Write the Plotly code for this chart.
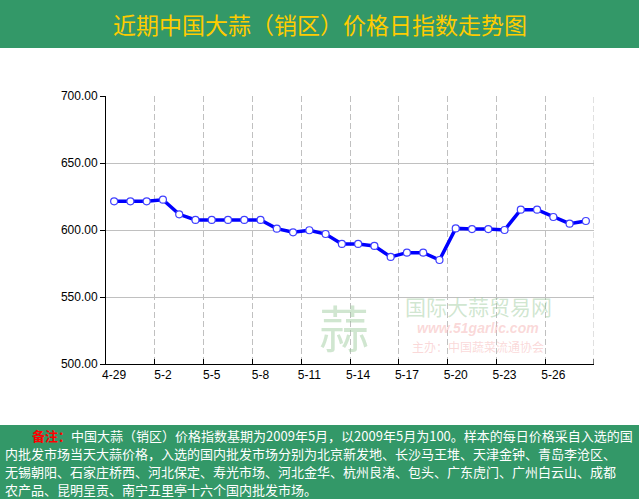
import plotly.graph_objects as go

# ---- data ----
dates = ["4-29", "4-30", "5-1", "5-2", "5-3", "5-4", "5-5", "5-6", "5-7", "5-8",
         "5-9", "5-10", "5-11", "5-12", "5-13", "5-14", "5-15", "5-16", "5-17", "5-18",
         "5-19", "5-20", "5-21", "5-22", "5-23", "5-24", "5-25", "5-26", "5-27", "5-28"]
values = [621.4, 621.4, 621.4, 622.6, 611.7, 607.5, 607.5, 607.5, 607.5, 607.5,
          601.0, 598.3, 599.8, 597.0, 589.6, 589.6, 588.1, 579.9, 583.1, 583.1,
          577.6, 601.2, 600.7, 600.7, 600.0, 615.2, 615.2, 609.7, 604.7, 606.7]
y_ticks = [500, 550, 600, 650, 700]
label_step = 3

title_text = "近期中国大蒜（销区）价格日指数走势图"
note_lines = [
    "<span style='color:#ff0000'><b>备注：</b></span>中国大蒜（销区）价格指数基期为2009年5月，以2009年5月为100。样本的每日价格采自入选的国",
    "内批发市场当天大蒜价格，入选的国内批发市场分别为北京新发地、长沙马王堆、天津金钟、青岛李沧区、",
    "无锡朝阳、石家庄桥西、河北保定、寿光市场、河北金华、杭州良渚、包头、广东虎门、广州白云山、成都",
    "农产品、昆明呈贡、南宁五里亭十六个国内批发市场。",
]

W, H = 639, 499
L, R, T, B = 106, 594, 96, 364
GREEN = "rgb(51,152,104)"
CJK = "Noto Sans CJK SC"

def px(xp):
    return (xp - L) / (R - L)

def py(yp):
    return (B - yp) / (B - T)

n = len(dates)
xs = list(range(n))
label_idx = list(range(0, n, label_step))
bounds = [i - 0.5 for i in range(0, n + 1, label_step)]

fig = go.Figure()
fig.add_trace(go.Scatter(
    x=xs, y=values, mode="lines+markers",
    line=dict(color="#0000ff", width=3.5),
    marker=dict(size=7, color="white", line=dict(color="#4040ff", width=1.2)),
    showlegend=False, hoverinfo="skip",
))
# empty helper trace to activate the boundary-grid axis
fig.add_trace(go.Scatter(x=[], y=[], xaxis="x2", yaxis="y", showlegend=False, hoverinfo="skip"))

fig.update_layout(
    width=W, height=H,
    margin=dict(l=L, r=W - R, t=T, b=H - B),
    paper_bgcolor="white", plot_bgcolor="white",
    font=dict(family="Arial, Liberation Sans", size=12, color="#000"),
    xaxis=dict(
        range=[-0.5, n - 0.5], tickmode="array", tickvals=label_idx,
        ticktext=[dates[i] for i in label_idx], ticks="", showgrid=False,
        showline=True, linecolor="#000", linewidth=1, zeroline=False,
        tickfont=dict(size=12, color="#000"),
    ),
    xaxis2=dict(
        overlaying="x", side="bottom", range=[-0.5, n - 0.5], tickmode="array",
        tickvals=bounds, showticklabels=False, ticks="inside", ticklen=5,
        tickcolor="#000", showgrid=True, gridcolor="#c0c0c0", griddash="6px,3px",
        gridwidth=1, showline=False, zeroline=False,
    ),
    yaxis=dict(
        range=[y_ticks[0], y_ticks[-1]], tickmode="array", tickvals=y_ticks,
        tickformat=".2f", ticks="outside", ticklen=5, tickcolor="#000",
        showline=True, linecolor="#000", linewidth=1, gridcolor="#c0c0c0",
        zeroline=False, tickfont=dict(size=12, color="#000"),
    ),
)

shapes = [
    dict(type="rect", xref="paper", yref="paper", x0=px(0), x1=px(W), y0=py(48), y1=py(0),
         fillcolor=GREEN, line=dict(width=0), layer="below"),
    dict(type="rect", xref="paper", yref="paper", x0=px(0), x1=px(W), y0=py(H), y1=py(425),
         fillcolor=GREEN, line=dict(width=0), layer="below"),
    # right-edge boundary grid line
    dict(type="line", xref="x", yref="paper", x0=bounds[-1], x1=bounds[-1], y0=0, y1=1,
         line=dict(color="#c0c0c0", width=1, dash="6px,3px"), layer="below"),
    dict(type="line", xref="x", yref="paper", x0=bounds[-1], x1=bounds[-1], y0=0, y1=py(B - 5),
         line=dict(color="#000", width=1), layer="above"),
]
fig.update_layout(shapes=shapes)

ann = []
ann.append(dict(text=title_text, xref="paper", yref="paper", x=px(320), y=py(24),
                xanchor="center", yanchor="middle", showarrow=False,
                font=dict(family=CJK, size=23, color="#ffcc00")))
line_x = [30, 3, 3, 3]
for i, t in enumerate(note_lines):
    ann.append(dict(text=t, xref="paper", yref="paper", x=px(line_x[i]), y=py(435 + 18 * i),
                    xanchor="left", yanchor="middle", showarrow=False,
                    font=dict(family=CJK, size=13, color="white")))
# watermark
ann.append(dict(text="蒜", xref="paper", yref="paper", x=px(344), y=py(326),
                xanchor="center", yanchor="middle", showarrow=False,
                font=dict(family=CJK, size=50, color="rgba(150,200,150,0.45)")))
ann.append(dict(text="国际大蒜贸易网", xref="paper", yref="paper", x=px(478), y=py(306),
                xanchor="center", yanchor="middle", showarrow=False, borderpad=0,
                font=dict(family=CJK, size=21, color="rgba(150,200,150,0.45)")))
ann.append(dict(text="<i><b>www.51garlic.com</b></i>", xref="paper", yref="paper", x=px(478), y=py(328),
                xanchor="center", yanchor="middle", showarrow=False, borderpad=0,
                font=dict(family="Arial", size=14, color="rgba(245,170,170,0.45)")))
ann.append(dict(text="主办：中国蔬菜流通协会", xref="paper", yref="paper", x=px(478), y=py(346),
                xanchor="center", yanchor="middle", showarrow=False, borderpad=0,
                font=dict(family=CJK, size=12, color="rgba(245,170,170,0.45)")))
fig.update_layout(annotations=ann)

fig.write_html("out.html")
